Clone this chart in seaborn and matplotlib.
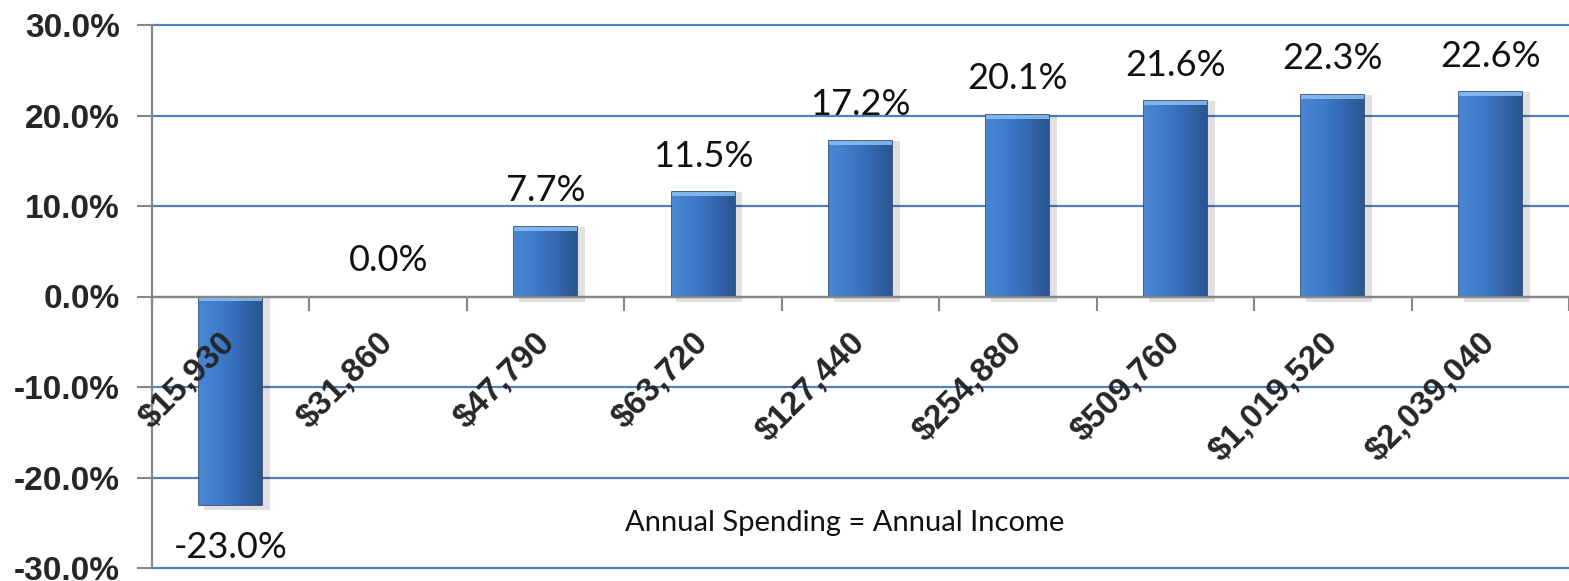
import numpy as np
import pandas as pd
import matplotlib
matplotlib.use("Agg")
import matplotlib.pyplot as plt
import matplotlib.transforms as mtransforms
from matplotlib.patches import Rectangle
from matplotlib.colors import LinearSegmentedColormap
import seaborn as sns

categories = ["$15,930", "$31,860", "$47,790", "$63,720", "$127,440",
              "$254,880", "$509,760", "$1,019,520", "$2,039,040"]
values = [-23.0, 0.0, 7.7, 11.5, 17.2, 20.1, 21.6, 22.3, 22.6]
y_ticks = [-30, -20, -10, 0, 10, 20, 30]
x_title = "Annual Spending = Annual Income"

sns.set_theme(style="white")
plt.rcParams["font.family"] = ["Liberation Sans", "DejaVu Sans"]

W, H = 1569, 581
fig = plt.figure(figsize=(W / 100, H / 100), dpi=100)
ax = fig.add_axes([152 / W, 1 - 568 / H, 1 - 152 / W, (568 - 25) / H])

df = pd.DataFrame({"cat": categories, "val": values})
sns.barplot(data=df, x="cat", y="val", color="#3C78C6", width=0.4, ax=ax,
            saturation=1, edgecolor="#27466F", linewidth=1.2, zorder=3)

cmap = LinearSegmentedColormap.from_list("bar", ["#4A86D2", "#3E7CCB", "#3468B0", "#2A5590"])
grad = np.linspace(0, 1, 64).reshape(1, -1)
for p in list(ax.patches):
    x0, y0, w, h = p.get_x(), p.get_y(), p.get_width(), p.get_height()
    if h == 0:
        continue
    lo, hi = min(y0, y0 + h), max(y0, y0 + h)
    # soft shadow
    sh = Rectangle((x0 + 0.03, lo - 0.6), w + 0.02, hi - lo + 0.6,
                   facecolor="#000000", alpha=0.12, edgecolor="none", zorder=2)
    ax.add_patch(sh)
    img = ax.imshow(grad, extent=[x0, x0 + w, lo, hi], aspect="auto",
                    cmap=cmap, zorder=3.5, interpolation="bicubic")
    img.set_clip_path(p)
    # light bevel at the top end
    top = Rectangle((x0, hi - 0.45), w, 0.45, facecolor="#8CC0F2", alpha=0.85,
                    edgecolor="none", zorder=3.6)
    ax.add_patch(top)
    top.set_clip_path(p)

ax.set_xlim(-0.5, -0.5 + (W - 152) / 158)
ax.set_ylim(-30, 30)

# value labels
for i, v in enumerate(values):
    if v >= 0:
        ax.annotate(f"{v:.1f}%", (i, v), xytext=(0, 14), textcoords="offset points",
                    ha="center", va="bottom", fontsize=26, family=["Lato", "DejaVu Sans"],
                    color="#111111", zorder=5)
    else:
        ax.annotate(f"{v:.1f}%", (i, v), xytext=(0, -19), textcoords="offset points",
                    ha="center", va="top", fontsize=26, family=["Lato", "DejaVu Sans"],
                    color="#111111", zorder=5)

# y axis
ax.set_yticks(y_ticks)
ax.set_yticklabels([f"{t:.1f}%" for t in y_ticks])
ax.tick_params(axis="y", left=True, length=11, width=1.5, color="#868686",
               direction="out", pad=12, labelsize=24)
for lab in ax.get_yticklabels():
    lab.set_fontweight("bold")

# grid
ax.set_axisbelow(True)
ax.yaxis.grid(True, color="#4F81BD", linewidth=1.6)
for gl in ax.get_ygridlines():
    gl.set_clip_on(False)
ax.xaxis.grid(False)
ax.xaxis.set_zorder(6)

# spines
for s in ["top", "right"]:
    ax.spines[s].set_visible(False)
ax.spines["left"].set_color("#868686")
ax.spines["left"].set_linewidth(1.6)
ax.spines["bottom"].set_position(("data", 0))
ax.spines["bottom"].set_color("#868686")
ax.spines["bottom"].set_linewidth(1.6)
ax.spines["bottom"].set_zorder(4)

# x ticks
ax.set_xticks(range(len(categories)))
ax.set_xticklabels(categories, rotation=45, ha="right", va="center",
                   rotation_mode="anchor", fontsize=24, fontweight="bold")
ax.set_xticks(np.arange(-0.5, len(categories), 1.0), minor=True)
ax.tick_params(axis="x", which="major", bottom=True, length=0, pad=30)
ax.tick_params(axis="x", which="minor", bottom=True, length=10, width=1.5,
               color="#868686", direction="out")
ax.set_xlabel("")
ax.set_ylabel("")

trans = mtransforms.blended_transform_factory(ax.transAxes, ax.transData)
ax.text((845 - 152) / (W - 152), -25, x_title, transform=trans, ha="center",
        va="center", fontsize=21, family=["Lato", "DejaVu Sans"], color="#111111")

fig.savefig("out.png", dpi=100)
